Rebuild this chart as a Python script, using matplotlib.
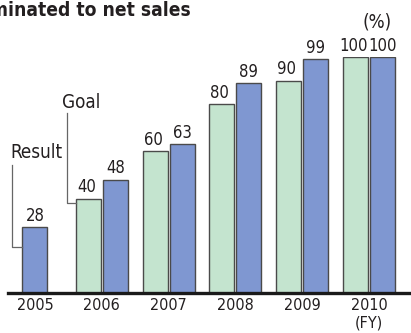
import matplotlib
matplotlib.use("Agg")
import matplotlib.pyplot as plt
import numpy as np

years = ["2005", "2006", "2007", "2008", "2009", "2010"]
goal = [None, 40, 60, 80, 90, 100]
result = [28, 48, 63, 89, 99, 100]

plt.rcParams['font.family'] = ['DejaVu Sans']
plt.rcParams['font.stretch'] = 'condensed'

W, H = 411, 333
fig = plt.figure(figsize=(W / 100, H / 100), dpi=100)
ax = fig.add_axes([8 / W, 40 / H, 403 / W, 236 / H])

green = "#c4e4cf"
blue = "#7f97d1"
edge = "#4a4a4a"
txt = "#231f20"
bw = 0.374
off = 0.202
vfs = 12

x = np.arange(len(years))
for i, (g, r) in enumerate(zip(goal, result)):
    if g is None:
        ax.bar(x[i], r, width=bw, color=blue, edgecolor=edge, linewidth=1.0)
        ax.text(x[i], r + 1.0, str(r), ha="center", va="bottom", fontsize=vfs, color=txt)
    else:
        ax.bar(x[i] - off, g, width=bw, color=green, edgecolor=edge, linewidth=1.0)
        ax.bar(x[i] + off, r, width=bw, color=blue, edgecolor=edge, linewidth=1.0)
        ax.text(x[i] - off - 0.03, g + 1.0, str(g), ha="center", va="bottom", fontsize=vfs, color=txt)
        ax.text(x[i] + off, r + 1.0, str(r), ha="center", va="bottom", fontsize=vfs, color=txt)

ax.set_xlim(-0.404, 5.629)
ax.set_ylim(0, 100)
for s in ["top", "right", "left"]:
    ax.spines[s].set_visible(False)
ax.spines["bottom"].set_linewidth(2.4)
ax.spines["bottom"].set_color("#1a1a1a")
ax.set_yticks([])
ax.set_xticks(x)
ax.set_xticklabels(years, fontsize=11.5, color=txt)
ax.tick_params(axis="x", length=0, pad=3.5)

# leader lines
lc = "#666666"
bar_left_05 = x[0] - bw / 2
ax.plot([-0.344, -0.344, bar_left_05], [54.2, 19.5, 19.5], color=lc, lw=0.9, clip_on=False)
ax.text(0.015, 59.7, "Result", ha="center", va="center", fontsize=13.5, color=txt)
g_left_06 = x[1] - off - bw / 2
ax.plot([0.479, 0.479, g_left_06], [76.3, 38.1, 38.1], color=lc, lw=0.9, clip_on=False)
ax.text(0.689, 80.9, "Goal", ha="center", va="center", fontsize=13.5, color=txt)

ax.text(5.12, 114.8, "(%)", ha="center", va="center", fontsize=13.5, color=txt, clip_on=False)
fig.text(369 / W, 1 - 323 / H, "(FY)", ha="center", va="center", fontsize=11.5, color=txt)

fig.text(-10 / W, 1 - 16 / H, "minated to net sales", ha="left", va="baseline",
         fontsize=13.8, fontweight="bold", color=txt)

fig.savefig("out.png", dpi=100)
